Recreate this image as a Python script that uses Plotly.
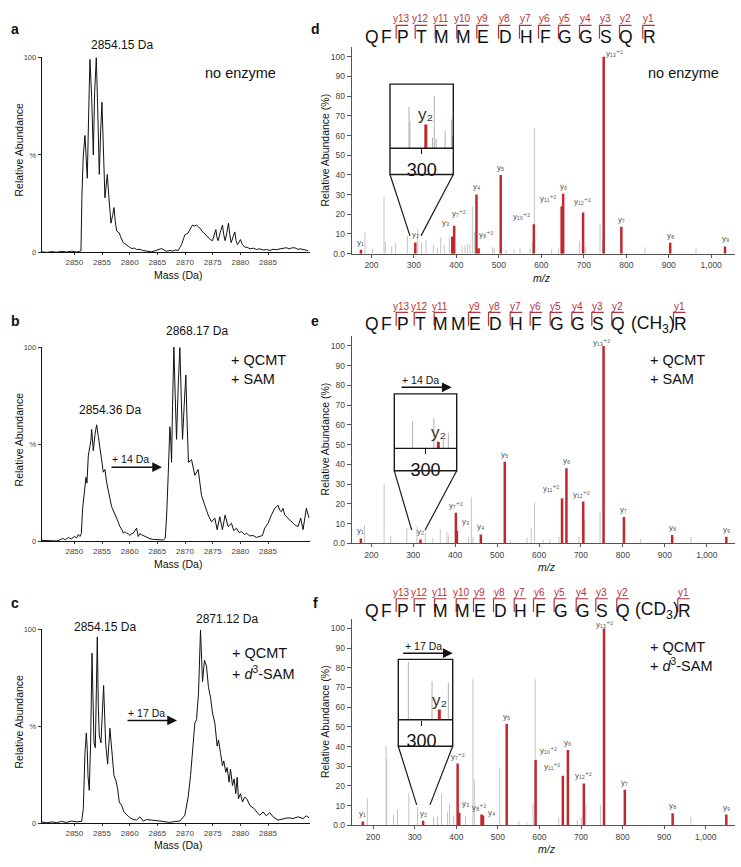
import plotly.graph_objects as go

# ======================= DATA =======================
# ---- intact-mass spectra (panels a, b, c) ----
ms_ticks = [2850, 2855, 2860, 2865, 2870, 2875, 2880, 2885]

a_mass = [2844.10, 2845.0, 2845.9, 2846.8, 2847.7, 2848.61, 2849.5, 2850.4, 2850.9, 2851.20, 2851.38, 2851.62,
          2851.92, 2852.10, 2852.34, 2852.58, 2852.82, 2853.13, 2853.43, 2853.67, 2853.97, 2854.21, 2854.51,
          2854.75, 2854.99, 2855.23, 2855.53, 2855.71, 2855.95, 2856.25, 2856.62, 2856.92, 2857.16, 2857.40,
          2857.64, 2857.88, 2858.12, 2858.36, 2858.60, 2858.84, 2859.14, 2859.44, 2859.80, 2860.35, 2860.83,
          2861.25, 2861.85, 2862.33, 2862.93, 2863.96, 2864.56, 2865.16, 2865.76, 2866.24, 2866.66, 2867.26,
          2867.75, 2868.29, 2868.77, 2869.07, 2869.37, 2869.73, 2869.97, 2870.27, 2870.57, 2870.94, 2871.36,
          2871.72, 2872.08, 2872.44, 2872.68, 2873.04, 2873.40, 2873.76, 2874.18, 2874.61, 2874.97, 2875.27,
          2875.57, 2875.75, 2875.99, 2876.35, 2876.77, 2877.01, 2877.25, 2877.55, 2877.85, 2878.10, 2878.34,
          2878.70, 2879.00, 2879.24, 2879.48, 2879.72, 2880.02, 2880.38, 2880.80, 2881.34, 2881.77, 2882.31,
          2882.91, 2883.51, 2884.17, 2884.71, 2885.38, 2885.92, 2886.52, 2887.18, 2887.72, 2888.32, 2888.81,
          2889.29, 2889.83, 2890.37, 2890.91, 2891.33, 2891.81, 2892.24]
a_int = [0.3, 0.0, 0.4, 0.1, 0.5, 0.2, 0.6, 0.2, 0.5, 0.8, 30, 50,
         60, 52, 38, 70, 99, 80, 50, 82, 100, 75, 40,
         62, 77, 55, 28, 33, 40, 28, 15, 19, 23, 16,
         11, 10.5, 10, 8, 6, 5, 4.5, 4, 3, 2, 2.2,
         1.5, 1.6, 1, 0.8, 0.3, 0.8, 1.5, 2, 1.2, 0.6, 1,
         0.7, 1.2, 1, 2.5, 4, 7, 9, 9.5, 10, 12, 14,
         13.5, 14, 13, 12.5, 11, 10, 8.5, 7.5, 6.5, 6, 9,
         11.7, 8, 6, 10, 14, 9, 6, 10, 15, 9, 5,
         8, 10.5, 6, 4, 5, 6.6, 4, 2.7, 2.5, 1.8, 2.2,
         1.5, 1.8, 1.2, 1.5, 1.0, 1.6, 1.4, 1.8, 2.0, 2.4, 1.8,
         2.3, 2.4, 1.6, 1.8, 1.5, 1.0, 0.9]

b_mass = [2844.10, 2845.9, 2846.8, 2847.41, 2847.89, 2848.37, 2848.91, 2849.45, 2850.0, 2850.42, 2850.72,
          2851.02, 2851.26, 2851.50, 2851.74, 2851.98, 2852.10, 2852.28, 2852.52, 2852.82, 2853.00, 2853.13,
          2853.31, 2853.43, 2853.73, 2854.03, 2854.33, 2854.63, 2854.93, 2855.23, 2855.53, 2855.83, 2856.13,
          2856.43, 2856.74, 2857.04, 2857.64, 2858.24, 2858.60, 2858.84, 2859.14, 2859.44, 2859.74, 2860.04,
          2860.35, 2860.65, 2860.95, 2861.25, 2861.55, 2861.85, 2862.15, 2862.45, 2862.75, 2863.23, 2863.65,
          2864.26, 2864.86, 2865.46, 2866.06, 2866.42, 2866.66, 2866.96, 2867.26, 2867.39, 2867.57, 2867.75,
          2867.99, 2868.23, 2868.47, 2868.77, 2869.07, 2869.31, 2869.55, 2869.85, 2870.15, 2870.39, 2870.63,
          2871.18, 2871.78, 2872.38, 2872.98, 2873.58, 2874.18, 2874.79, 2875.39, 2875.81, 2876.29, 2876.77,
          2877.25, 2877.79, 2878.40, 2878.82, 2879.30, 2879.78, 2880.20, 2880.80, 2881.10, 2881.71, 2882.31,
          2882.91, 2883.51, 2883.99, 2884.41, 2885.01, 2885.62, 2886.22, 2886.82, 2887.12, 2887.42, 2887.72,
          2888.02, 2888.62, 2889.23, 2889.83, 2890.43, 2890.91, 2891.33, 2891.93, 2892.42]
b_int = [0.5, 0.3, 0.2, 0.8, 1.5, 0.8, 2, 1.2, 2.5, 1.8, 3.5,
         2.5, 4, 17, 25, 31, 33, 30, 44, 49, 52, 57.6,
         50, 46.6, 55, 60, 54, 49, 42, 35.6, 37, 30.5, 27,
         22, 17.8, 16, 12, 7.6, 6, 4.2, 5, 4.2, 4, 3,
         4, 4.2, 5.5, 6.8, 2.5, 4, 3.4, 3, 2.5, 1.8, 1.4,
         1, 0.8, 0.9, 0.7, 1.5, 12, 34, 59, 55, 40.7, 70,
         100, 75, 52.5, 80, 99.7, 75, 52.5, 70, 85.6, 60, 40.7,
         42, 34, 37, 23.7, 18.6, 13.6, 10, 12, 6, 12.7, 6,
         13.6, 7.6, 9.3, 5.5, 6.8, 4.5, 5, 3.5, 4.2, 2.8, 3,
         2, 2.5, 3, 6.8, 9.3, 13.6, 17, 18.6, 16, 15.3, 17,
         13.6, 12, 10, 8.5, 7.6, 12, 6, 17, 12]

c_mass = [2844.10, 2845.0, 2845.9, 2846.8, 2847.7, 2848.61, 2849.5, 2850.4, 2851.32, 2851.62, 2851.92,
          2852.16, 2852.34, 2852.46, 2852.70, 2852.94, 2853.19, 2853.37, 2853.55, 2853.79, 2854.15, 2854.33,
          2854.51, 2854.81, 2855.29, 2855.65, 2856.01, 2856.43, 2856.80, 2857.16, 2857.52, 2857.82, 2858.12,
          2858.54, 2858.96, 2859.44, 2860.04, 2860.65, 2861.25, 2861.85, 2862.45, 2863.05, 2863.65, 2864.56,
          2865.46, 2866.36, 2867.26, 2868.17, 2869.07, 2869.97, 2870.57, 2871.00, 2871.48, 2871.78, 2872.08,
          2872.44, 2872.80, 2873.16, 2873.52, 2873.88, 2874.24, 2874.61, 2874.97, 2875.39, 2875.81, 2876.05,
          2876.41, 2876.77, 2877.01, 2877.37, 2877.61, 2877.97, 2878.22, 2878.58, 2878.88, 2879.18, 2879.42,
          2879.66, 2880.02, 2880.38, 2880.80, 2881.22, 2881.71, 2882.19, 2882.61, 2883.03, 2883.51, 2884.11,
          2884.71, 2885.32, 2885.92, 2886.82, 2887.72, 2888.62, 2889.53, 2890.43, 2891.33, 2891.93, 2892.42]
c_int = [0.8, 0.3, 0.8, 0.4, 1, 0.5, 1.2, 0.8, 1, 7.6, 36,
         46.6, 38, 24.6, 17, 41.5, 87.6, 60, 41.5, 39, 96, 60,
         45, 41.5, 71, 41.5, 30.5, 49, 36.4, 24.6, 22, 17.8, 11,
         9.3, 6, 4.6, 2.9, 2, 1.7, 3.4, 1.2, 2, 1.7, 1.5,
         1.2, 1, 0.5, 1, 1.2, 4.2, 13.6, 24.6, 41.5, 51.7, 53.4,
         67, 99.5, 73, 84, 81, 70, 65, 56.8, 51.7, 39.8, 43,
         36.4, 29.7, 32.2, 26.3, 28.8, 21.2, 28, 19.5, 22.9, 15.3, 23.7,
         12.7, 15.3, 11, 13.6, 12.4, 9.3, 8, 7.3, 5.6, 4.2, 5.9,
         3.9, 5.6, 3.4, 1.7, 2.5, 2.9, 2.5, 3.4, 2.5, 3.9, 2.9]

# ---- MS/MS spectra (panels d, e, f) ----
spec_ticks = [200, 300, 400, 500, 600, 700, 800, 900, 1000]
spec_ticktext = ["200", "300", "400", "500", "600", "700", "800", "900", "1,000"]
ab_ticks = [0, 10, 20, 30, 40, 50, 60, 70, 80, 90, 100]
ab_ticktext = ["0.0", "10", "20", "30", "40", "50", "60", "70", "80", "90", "100"]

d_red_mz = [175.1, 303.2, 390.2, 394.7, 447.2, 452.2, 504.3, 582.3, 647.8, 651.3, 698.3, 746.8, 788.4, 903.4, 1032.5]
d_red_int = [2.0, 5.7, 8.7, 14.2, 30.1, 2.8, 40.0, 14.9, 24.0, 30.5, 20.9, 100, 13.7, 5.5, 3.7]
d_red_lab = ["y₁", "y₂", "y₃", "y₇⁺²", "y₄", "y₈⁺²", "y₅", "y₁₀⁺²", "y₁₁⁺²", "y₆", "y₁₂⁺²", "y₁₃⁺²", "y₇", "y₈", "y₉"]
d_grey_mz = [184.8, 202.8, 229.5, 232.7, 247.6, 257.0, 284.5, 308.8, 318.0, 328.4, 345.7, 355.0, 363.0, 371.6,
             383.4, 392.8, 413.2, 420.3, 426.6, 432.0, 438.3, 443.0, 485.4, 489.3, 516.8, 535.6, 549.8, 573.3,
             578.8, 583.5, 624.3, 640.0, 689.5, 699.0, 703.6, 738.2, 744.4, 844.0, 964.2]
d_grey_int = [10.9, 2.5, 29.0, 6.0, 3.7, 5.3, 9.0, 12.5, 6.0, 7.0, 4.5, 3.2, 8.2, 4.5,
              8.7, 6.2, 4.0, 4.2, 4.8, 4.5, 24.0, 11.0, 3.3, 2.8, 2.0, 2.3, 2.8, 2.5,
              6.0, 63.8, 2.5, 2.8, 6.5, 5.8, 3.7, 15.0, 8.0, 3.2, 2.8]

e_red_mz = [175.1, 317.2, 401.7, 404.2, 461.2, 518.3, 654.8, 665.3, 705.3, 753.8, 802.4, 917.4, 1046.5]
e_red_int = [2.5, 2.0, 15.5, 6.4, 4.5, 41.3, 22.9, 38.1, 21.2, 100, 13.4, 4.2, 3.3]
e_red_lab = ["y₁", "y₂", "y₇⁺²", "y₃", "y₄", "y₅", "y₁₁⁺²", "y₆", "y₁₂⁺²", "y₁₃⁺²", "y₇", "y₈", "y₉"]
e_grey_mz = [183.6, 230.6, 246.5, 284.8, 308.7, 328.6, 346.9, 364.4, 380.4, 384.4, 432.2, 438.6, 442.6,
             531.8, 571.6, 581.2, 589.2, 609.9, 625.8, 647.3, 695.2, 708.7, 745.4, 842.6, 962.1]
e_grey_int = [9.2, 30.0, 3.8, 7.5, 8.4, 5.0, 2.8, 7.2, 5.9, 4.2, 3.3, 23.4, 3.3,
              1.7, 2.8, 7.5, 20.6, 1.7, 2.0, 3.3, 3.3, 11.7, 16.2, 2.2, 3.3]

f_red_mz = [175.1, 320.2, 403.2, 407.2, 460.7, 464.3, 521.3, 590.8, 656.3, 668.4, 706.8, 755.3, 805.4, 920.4, 1049.5]
f_red_int = [2.0, 2.3, 31.4, 6.4, 5.5, 5.0, 51.5, 33.2, 25.2, 38.3, 21.3, 100, 18.1, 6.2, 5.5]
f_red_lab = ["y₁", "y₂", "y₇⁺²", "y₃", "y₈⁺²", "y₄", "y₅", "y₁₀⁺²", "y₁₁⁺²", "y₆", "y₁₂⁺²", "y₁₃⁺²", "y₇", "y₈", "y₉"]
f_grey_mz = [186.0, 231.0, 232.6, 248.8, 258.5, 285.8, 306.7, 345.3, 354.9, 364.5, 379.0, 383.8, 393.5, 422.4,
             440.0, 443.3, 504.5, 551.0, 572.0, 584.8, 589.6, 646.7, 691.0, 700.5, 711.8, 747.2, 964.2]
f_grey_int = [13.8, 40.6, 33.9, 5.5, 8.0, 16.4, 9.2, 4.2, 4.7, 16.0, 6.7, 10.9, 5.0, 5.0,
              74.3, 23.5, 29.0, 2.0, 1.3, 11.4, 74.3, 4.2, 2.5, 4.2, 11.4, 10.4, 4.2]

# ---- zoom insets around y2 ----
inset_tick = [300]
d_in_grey_mz = [298.6, 298.7, 301.2, 301.4, 301.6, 302.6, 303.3, 303.4]
d_in_grey_int = [64.5, 42, 16.5, 81, 15, 27, 45, 19.6]
d_in_red_mz = [300.46]
d_in_red_int = [37]
e_in_grey_mz = [298.55, 300.94, 302.0, 302.56]
e_in_grey_int = [49.6, 55.8, 16, 28.5]
e_in_red_mz = [301.44]
e_in_red_int = [12]
f_in_grey_mz = [298.29, 301.34, 303.44]
f_in_grey_int = [95.6, 64, 61]
f_in_red_mz = [302.28]
f_in_red_int = [17]

# ---- peptide sequences with y-ion cleavage marks ----
seq_d = ["Q", "F", "P", "T", "M", "M", "E", "D", "H", "F", "G", "G", "S", "Q", "R"]
ion_d = [None, None, "y13", "y12", "y11", "y10", "y9", "y8", "y7", "y6", "y5", "y4", "y3", "y2", "y1"]
seq_e = ["Q", "F", "P", "T", "M", "M", "E", "D", "H", "F", "G", "G", "S", "Q", "(CH<sub>3</sub>)", "R"]
ion_e = [None, None, "y13", "y12", "y11", None, "y9", "y8", "y7", "y6", "y5", "y4", "y3", "y2", None, "y1"]
seq_f = ["Q", "F", "P", "T", "M", "M", "E", "D", "H", "F", "G", "G", "S", "Q", "(CD<sub>3</sub>)", "R"]
ion_f = [None, None, "y13", "y12", "y11", "y10", "y9", "y8", "y7", "y6", "y5", "y4", "y3", "y2", None, "y1"]

# ======================= LAYOUT / STYLE =======================
W, H = 741, 867
FONT = "Arial, 'Liberation Sans', 'DejaVu Sans', sans-serif"
RED = "#c0282e"
RED_TXT = "#b3313a"
GREY = "#c4c4c4"


def px(x):
    return x / W


def py(y):
    return 1 - y / H


def sticks(mz, inten):
    xs, ys = [], []
    for m, v in zip(mz, inten):
        xs += [m, m, None]
        ys += [0, v, None]
    return xs, ys


fig = go.Figure()

# intact mass traces
for i, (mx, my) in enumerate([(a_mass, a_int), (b_mass, b_int), (c_mass, c_int)]):
    n = "" if i == 0 else str(i + 1)
    fig.add_trace(go.Scatter(x=mx, y=my, xaxis="x" + n, yaxis="y" + n, mode="lines",
                             line=dict(color="#111111", width=1), hoverinfo="skip"))

# MS/MS stick spectra
for n, gm, gi, rm, ri in [("4", d_grey_mz, d_grey_int, d_red_mz, d_red_int),
                          ("5", e_grey_mz, e_grey_int, e_red_mz, e_red_int),
                          ("6", f_grey_mz, f_grey_int, f_red_mz, f_red_int),
                          ("7", d_in_grey_mz, d_in_grey_int, d_in_red_mz, d_in_red_int),
                          ("8", e_in_grey_mz, e_in_grey_int, e_in_red_mz, e_in_red_int),
                          ("9", f_in_grey_mz, f_in_grey_int, f_in_red_mz, f_in_red_int)]:
    inset = n in ("7", "8", "9")
    gx, gy = sticks(gm, gi)
    fig.add_trace(go.Scatter(x=gx, y=gy, xaxis="x" + n, yaxis="y" + n, mode="lines",
                             line=dict(color="#b0b0b0" if inset else GREY, width=1), hoverinfo="skip"))
    rx, ry = sticks(rm, ri)
    fig.add_trace(go.Scatter(x=rx, y=ry, xaxis="x" + n, yaxis="y" + n, mode="lines",
                             line=dict(color=RED, width=3 if inset else 2.5), hoverinfo="skip"))

tick_font_ms = dict(size=8, color="#444444", family=FONT)
tick_font_sp = dict(size=8.5, color="#444444", family=FONT)

layout = dict(width=W, height=H, margin=dict(l=0, r=0, t=0, b=0), showlegend=False,
              paper_bgcolor="white", plot_bgcolor="white", font=dict(family=FONT))

ms_rows = [(251, 54), (543, 346.7), (828, 631.7)]
for i, (yb, yt) in enumerate(ms_rows):
    n = "" if i == 0 else str(i + 1)
    layout["xaxis" + n] = dict(domain=[px(41.7), px(309.5)], range=[2844.1, 2892.5], anchor="y" + n,
                               tickvals=ms_ticks, ticks="outside", ticklen=2, tickcolor="#333",
                               showline=True, linecolor="#111", linewidth=1, showgrid=False,
                               zeroline=False, tickfont=tick_font_ms)
    layout["yaxis" + n] = dict(domain=[py(yb), py(yt)], range=[0, 100], anchor="x" + n,
                               tickvals=[0, 50, 100], ticktext=["0", "%", "100"], ticks="outside",
                               ticklen=3, tickcolor="#333", showline=True, linecolor="#111",
                               linewidth=1, showgrid=False, zeroline=False,
                               tickfont=dict(size=7.5, color="#444", family=FONT))

sp_rows = [("4", 252.3, 43.4, [153.4, 1056]), ("5", 545, 335.6, [153.3, 1067.2]),
           ("6", 830, 621, [148.4, 1070.4])]
for n, yb, yt, rng in sp_rows:
    layout["xaxis" + n] = dict(domain=[px(351.7), px(735)], range=rng, anchor="y" + n,
                               tickvals=spec_ticks, ticktext=spec_ticktext, ticks="outside",
                               ticklen=3, tickcolor="#555", showline=True, linecolor="#555",
                               linewidth=1, showgrid=False, zeroline=False, tickfont=tick_font_sp)
    layout["yaxis" + n] = dict(domain=[py(yb), py(yt)], range=[0, 105], anchor="x" + n,
                               tickvals=ab_ticks, ticktext=ab_ticktext, ticks="outside", ticklen=4,
                               tickcolor="#555", showline=True, linecolor="#555", linewidth=1,
                               showgrid=False, zeroline=False, tickfont=tick_font_sp)

# inset axes: (n, x0, x1, ytop, ydiv, ybot, range, left funnel end, right funnel end)
insets = [("7", 390, 453.3, 81, 145.7, 172.3, [296.5, 303.5], (410, 234.3), (421, 234.3)),
          ("8", 394.3, 456.7, 394, 449, 471.7, [296.5, 303.5], (411.7, 531.7), (425, 531.7)),
          ("9", 398.3, 452.7, 662.3, 723.3, 750, [297, 304], (416.7, 809.3), (430, 809.3))]
shapes = []
for n, x0, x1, yt, ydv, yb, rng, pl, pr in insets:
    layout["xaxis" + n] = dict(domain=[px(x0), px(x1)], range=rng, anchor="y" + n,
                               tickvals=inset_tick, ticktext=["300"], ticks="outside", ticklen=5,
                               tickwidth=1.3, tickcolor="#111", showline=False, showgrid=False,
                               zeroline=False, tickfont=dict(size=18, color="#111", family=FONT))
    layout["yaxis" + n] = dict(domain=[py(ydv), py(yt)], range=[0, 100], anchor="x" + n,
                               visible=False)
    line = dict(color="#1a1a1a", width=1.4)
    shapes.append(dict(type="rect", xref="paper", yref="paper", x0=px(x0), x1=px(x1),
                       y0=py(yb), y1=py(yt), line=line))
    shapes.append(dict(type="line", xref="paper", yref="paper", x0=px(x0), x1=px(x1),
                       y0=py(ydv), y1=py(ydv), line=line))
    shapes.append(dict(type="line", xref="paper", yref="paper", x0=px(x0), y0=py(yb),
                       x1=px(pl[0]), y1=py(pl[1]), line=dict(color="#1a1a1a", width=1.2)))
    shapes.append(dict(type="line", xref="paper", yref="paper", x0=px(x1), y0=py(yb),
                       x1=px(pr[0]), y1=py(pr[1]), line=dict(color="#1a1a1a", width=1.2)))

annotations = []


def ann(text, x, y, size, color="#111", xanchor="center", yanchor="middle", **kw):
    annotations.append(dict(text=text, x=px(x), y=py(y), xref="paper", yref="paper",
                            showarrow=False, xanchor=xanchor, yanchor=yanchor,
                            font=dict(size=size, color=color, family=FONT), **kw))


# panel letters
for t, x, y in [("a", 15, 25), ("b", 15, 320), ("c", 15, 605), ("d", 315, 25), ("e", 315, 320), ("f", 315, 605)]:
    ann("<b>%s</b>" % t, x, y, 14)

# axis titles
for y in (147, 440, 725):
    ann("Relative Abundance", 19, y, 10.5, textangle=-90)
for y in (148, 440, 725.5):
    ann("Relative Abundance (%)", 325, y, 10.5, textangle=-90)
for y in (274, 566, 850):
    ann("Mass (Da)", 178, y, 10.5)
for x, y in [(542, 277), (547, 569), (547, 854)]:
    ann("<i>m/z</i>", x, y, 10.5)

# mass labels & conditions
ann("2854.15 Da", 121.7, 41.7, 12)
ann("no enzyme", 240, 70, 14.5)
ann("2868.17 Da", 196.7, 330, 12)
ann("2854.36 Da", 110, 410, 12)
ann("+ QCMT", 229.3, 360, 14.5, xanchor="left")
ann("+ SAM", 229.3, 379.3, 14.5, xanchor="left")
ann("2854.15 Da", 105, 630, 12)
ann("2871.12 Da", 226.7, 621.7, 12)
ann("+ QCMT", 230, 656, 14.5, xanchor="left")
ann("+ <i>d</i><sup>3</sup>-SAM", 230, 675.7, 14.5, xanchor="left")
ann("no enzyme", 683.3, 70, 14.5)
ann("+ QCMT", 648.3, 360, 14.5, xanchor="left")
ann("+ SAM", 648.3, 379.3, 14.5, xanchor="left")
ann("+ QCMT", 648.3, 650, 14.5, xanchor="left")
ann("+ <i>d</i><sup>3</sup>-SAM", 648.3, 668.3, 14.5, xanchor="left")

# shift arrows
for (hx, hy, L, txt, tx, ty) in [(162, 468, 52, "+ 14 Da", 130, 460),
                                 (177, 724, 51, "+ 17 Da", 146.7, 716.7),
                                 (451.7, 387.3, 51.7, "+ 14 Da", 420, 380),
                                 (452.7, 656, 51, "+ 17 Da", 423.3, 648.3)]:
    annotations.append(dict(text="", x=px(hx), y=py(hy), xref="paper", yref="paper", showarrow=True,
                            ax=-L, ay=0, arrowhead=2, arrowsize=1.3, arrowwidth=1.5,
                            arrowcolor="#111"))
    ann(txt, tx, ty, 10.5)

# sequence headers
seq_x_d = [371.7, 386.7, 402.7, 421.7, 441.7, 463.3, 483.3, 505, 526, 545, 565, 586, 606, 626, 649.3]
seq_x_e = [371.7, 386.7, 402.7, 420.7, 440.7, 458.3, 475, 495, 516.7, 536.7, 556.7, 578.3, 598.3, 618.3, 653.3, 680]
seq_x_f = [371.7, 386, 402.7, 420.7, 441, 462.7, 480, 500, 520.7, 540, 560.7, 582.7, 602.3, 623.3, 656.7, 684.3]
for seq, ions, xs, y_let, y_line, y_lab in [(seq_d, ion_d, seq_x_d, 31.7, 21.7, 15),
                                            (seq_e, ion_e, seq_x_e, 321.7, 311.7, 306),
                                            (seq_f, ion_f, seq_x_f, 611, 601, 595)]:
    for r, ion, x in zip(seq, ions, xs):
        ann(r, x, y_let + 2, 17.5)
        if ion:
            xv = x - 6.5
            shapes.append(dict(type="path", xref="paper", yref="paper",
                               path="M %f,%f L %f,%f L %f,%f" % (px(xv), py(y_line + 13.5), px(xv), py(y_line),
                                                                px(x + 5.5), py(y_line)),
                               line=dict(color=RED_TXT, width=1.2)))
            ann(ion, x - 1, y_lab, 10, color=RED_TXT)

# fragment labels on spectra (xshift, yshift in px)
lab_off_d = [(0, 0), (0, 0), (-7, 7), (5, 5), (0, 0), (8, 6), (0, 0), (-12, 0), (-13, 0), (0, 0), (-1, 4),
             (11, -4), (0, 0), (0, 0), (0, 0)]
lab_off_e = [(0, 0), (0, 0), (0, 0), (9, 2), (0, 0), (0, 0), (-11, 2), (0, 0), (-2, 0), (-2, -4), (0, 0),
             (0, 0), (0, 0)]
lab_off_f = [(0, 0), (0, 0), (0, 0), (6, 2), (-2, 0), (8, -4), (0, 0), (13, 2), (-10, 2), (0, 0), (0, 0),
             (0, -4), (0, 0), (0, 0), (0, 0)]
for n, mz, it, labs, offs in [("4", d_red_mz, d_red_int, d_red_lab, lab_off_d),
                              ("5", e_red_mz, e_red_int, e_red_lab, lab_off_e),
                              ("6", f_red_mz, f_red_int, f_red_lab, lab_off_f)]:
    for m, v, t, (dx, dy) in zip(mz, it, labs, offs):
        annotations.append(dict(text=t, x=m, y=v, xref="x" + n, yref="y" + n, showarrow=False,
                                xanchor="center", yanchor="bottom", xshift=dx, yshift=dy + 1,
                                font=dict(size=8, color="#555", family=FONT)))

# y2 labels in insets
for n, mz, it in [("7", d_in_red_mz, d_in_red_int), ("8", e_in_red_mz, e_in_red_int),
                  ("9", f_in_red_mz, f_in_red_int)]:
    annotations.append(dict(text="y₂", x=mz[0], y=it[0], xref="x" + n, yref="y" + n, showarrow=False,
                            xanchor="center", yanchor="bottom", yshift=-2,
                            font=dict(size=17, color="#333", family=FONT)))

layout["shapes"] = shapes
layout["annotations"] = annotations
fig.update_layout(**layout)
fig.write_html("out.html", config={"displayModeBar": False},
               post_script="document.body.style.margin='0px';document.body.style.padding='0px';"
                           "document.body.style.overflow='hidden';")
